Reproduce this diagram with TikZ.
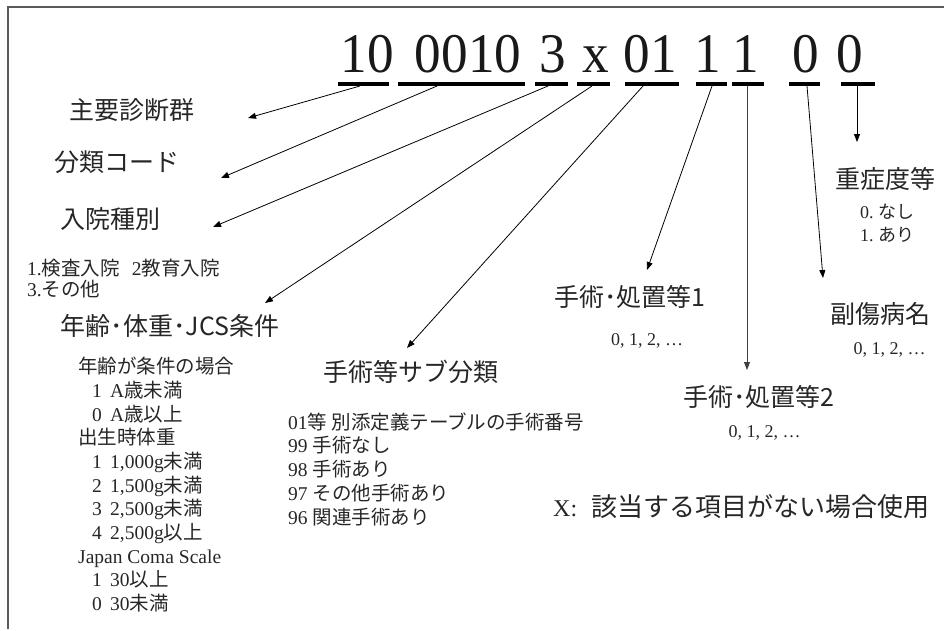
\documentclass[tikz,border=0pt]{standalone}
\usepackage{fontspec}
\setmainfont{Liberation Serif}
\newfontfamily\jp{Noto Sans CJK JP}
\newfontfamily\codefont[FakeStretch=0.95]{Liberation Serif}
\usetikzlibrary{arrows.meta}
\begin{document}
\begin{tikzpicture}[x=1pt,y=-1pt,
  arr/.style={draw=black,line width=0.8pt,-{Triangle[length=8pt,width=6pt]}},
  codebar/.style={fill=black,inner sep=0pt,minimum height=3.6pt},
  code/.style={font=\codefont\fontsize{56}{60}\selectfont,inner sep=0pt,anchor=base,text=black!90},
  head/.style={font=\jp\fontsize{25}{28}\selectfont,inner sep=0pt,text=black!85,text height=0.85em,text depth=0.12em},
  item/.style={font=\fontsize{19.5}{22}\selectfont,inner sep=0pt,anchor=west,text=black!85,text height=0.85em,text depth=0.12em},
  val/.style={font=\fontsize{18}{22}\selectfont,inner sep=0pt,text=black!85,text height=0.85em,text depth=0.12em},
  frameline/.style={draw=black!65,line width=1.5pt}]
\useasboundingbox (0,0) rectangle (944,630);
\draw[frameline] (8,629) -- (8,7) -- (944,7);

% code digits
\node[code] (d1) at (367,72) {10};
\node[code] (d2) at (468,72) {0010};
\node[code] (d3) at (552.5,72) {3};
\node[code] (d4) at (596,72) {x};
\node[code] (d5) at (650.5,72) {01};
\node[code] (d6) at (708,72) {1};
\node[code] (d7) at (746,72) {1};
\node[code] (d8) at (805.5,72) {0};
\node[code] (d9) at (849.5,72) {0};

% bars
\node[codebar,minimum width=51pt] (b1) at (363.5,84) {};
\node[codebar,minimum width=127pt] (b2) at (461.5,84) {};
\node[codebar,minimum width=33pt] (b3) at (551.5,84) {};
\node[codebar,minimum width=33pt] (b4) at (593.5,84) {};
\node[codebar,minimum width=54pt] (b5) at (652,84) {};
\node[codebar,minimum width=31pt] (b6) at (711.5,84) {};
\node[codebar,minimum width=32pt] (b7) at (748,84) {};
\node[codebar,minimum width=31pt] (b8) at (804.5,84) {};
\node[codebar,minimum width=34pt] (b9) at (858,84) {};

% arrow tips
\coordinate (t1) at (248,118);
\coordinate (t2) at (221,178);
\coordinate (t3) at (213,227);
\coordinate (t4) at (265,303);
\coordinate (t5) at (407,348);
\coordinate (t6) at (647,270);
\coordinate (t7) at (747,370);
\coordinate (t8) at (823,278);
\coordinate (t9) at (857,142);

\draw[arr] ([xshift=-3.5pt]b1.south) -- (t1);
\draw[arr] ([xshift=-24.5pt]b2.south) -- (t2);
\draw[arr] ([xshift=-3.5pt]b3.south) -- (t3);
\draw[arr] ([xshift=-1.5pt]b4.south) -- (t4);
\draw[arr] ([xshift=-9pt]b5.south) -- (t5);
\draw[arr] ([xshift=0.5pt]b6.south) -- (t6);
\draw[arr,draw=black!75] ([xshift=-1pt]b7.south) -- (t7);
\draw[arr] ([xshift=2.5pt]b8.south) -- (t8);
\draw[arr] ([xshift=-1pt]b9.south) -- (t9);

% headings
\node[head] (h1) at (132,116) {主要診断群};
\node[head] (h2) at (117,168) {分類コード};
\node[head] (h3) at (110,225) {入院種別};
\node[head] (h4) at (170,332) {年齢･体重･JCS条件};
\node[head] (h5) at (411,378) {手術等サブ分類};
\node[head] (h6) at (630,303) {手術･処置等1};
\node[head] (h7) at (880,320) {副傷病名};
\node[head] (h8) at (759,403) {手術･処置等2};
\node[head] (h9) at (885,185) {重症度等};

% admission type items
\node[item] (a1) at (27,272) {1.{\jp 検査入院}\hspace{12pt}2{\jp 教育入院}};
\node[item] (a2) at (27,293) {3.{\jp その他}};

% age/weight/JCS items
\node[item] (g1) at (78,370) {\jp 年齢が条件の場合};
\node[item] (g2) at (92,393.7) {\makebox[18pt][l]{1}A{\jp 歳未満}};
\node[item] (g3) at (92,417.4) {\makebox[18pt][l]{0}A{\jp 歳以上}};
\node[item] (g4) at (78,441.1) {\jp 出生時体重};
\node[item] (g5) at (92,464.8) {\makebox[18pt][l]{1}1,000g{\jp 未満}};
\node[item] (g6) at (92,488.5) {\makebox[18pt][l]{2}1,500g{\jp 未満}};
\node[item] (g7) at (92,512.2) {\makebox[18pt][l]{3}2,500g{\jp 未満}};
\node[item] (g8) at (92,535.9) {\makebox[18pt][l]{4}2,500g{\jp 以上}};
\node[item] (g9) at (78,559.6) {Japan Coma Scale};
\node[item] (g10) at (92,583.3) {\makebox[18pt][l]{1}30{\jp 以上}};
\node[item] (g11) at (92,607) {\makebox[18pt][l]{0}30{\jp 未満}};

% surgery sub-classification items
\node[item] (s1) at (288,426) {01{\jp 等 別添定義テーブルの手術番号}};
\node[item] (s2) at (288,449) {99 {\jp 手術なし}};
\node[item] (s3) at (288,473) {98 {\jp 手術あり}};
\node[item] (s4) at (288,497) {97 {\jp その他手術あり}};
\node[item] (s5) at (288,521) {96 {\jp 関連手術あり}};

% values
\node[val] (v6) at (647,342) {0, 1, 2, …};
\node[val] (v7) at (889.5,351) {0, 1, 2, …};
\node[val] (v8) at (764.5,434) {0, 1, 2, …};
\node[val,anchor=west] (v9a) at (860,215) {0.\hspace{5pt}{\jp なし}};
\node[val,anchor=west] (v9b) at (860,238) {1.\hspace{5pt}{\jp あり}};

% note
\node[anchor=west,inner sep=0pt,text=black!85,text height=0.85em,text depth=0.12em] (note) at (553,513)
  {\fontsize{24}{28}\selectfont X:\hspace{14pt}{\jp\fontsize{26}{30}\selectfont 該当する項目がない場合使用}};
\end{tikzpicture}
\end{document}
